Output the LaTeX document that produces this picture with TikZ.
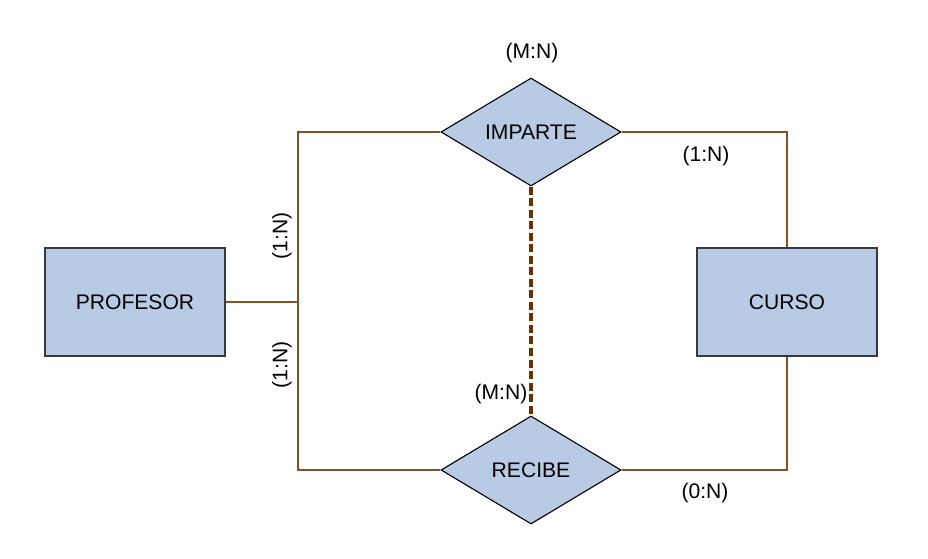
\documentclass[tikz,border=0pt]{standalone}
\usepackage{fontspec}
\setmainfont{Liberation Sans}
\usetikzlibrary{shapes.geometric}
\definecolor{entfill}{HTML}{B9CBE4}
\definecolor{entline}{HTML}{36393D}
\definecolor{relline}{HTML}{7F5327}
\definecolor{dashline}{HTML}{663300}
\tikzset{
	entidad/.style={draw=entline, fill=entfill, line width=0.8pt, minimum width=4.5cm, minimum height=2.7cm, inner sep=0pt, font=\fontsize{15}{18}\selectfont},
	relacion/.style={diamond, draw=black, fill=entfill, line width=0.8pt, aspect=1.667, minimum width=4.5cm, minimum height=2.7cm, inner sep=0pt, font=\fontsize{15}{18}\selectfont},
	enlace/.style={draw=relline, line width=0.8pt},
	discontinua/.style={draw=dashline, line width=2.4pt, dash pattern=on 5.7pt off 2.5pt},
	card/.style={font=\fontsize{15}{18}\selectfont, inner sep=0pt}
}
\begin{document}
\begin{tikzpicture}[x=0.025cm, y=-0.025cm]
		\useasboundingbox (0, 0) rectangle (928, 559);
		%%%%% ENTIDADES %%%%%
		\node[entidad] (prof) at (135, 302) {PROFESOR};
		\node[entidad] (curso) at (787, 302) {CURSO};
		
		%%%%% RELACIONES %%%%%
		\node[relacion] (imparte) at (531, 132) {IMPARTE};
		\node[relacion] (recibe) at (531, 470) {RECIBE};
		
		\coordinate (junta) at (298, 302);
		
		%%%%% LINEAS %%%%%
		\draw[enlace] (prof.east) -- (junta);
		\draw[enlace] (imparte.west) -| (junta) |- (recibe.west);
		\draw[enlace] (imparte.east) -| (curso.north);
		\draw[enlace] (recibe.east) -| (curso.south);
		\draw[discontinua] (imparte.south) -- (recibe.north);
		
		%%%%% CARDINALIDADES %%%%%
		\node[card] (cimp) at (532, 53) {(M:N)};
		\node[card] (cimpcur) at (706, 156) {(1:N)};
		\node[card, rotate=90] (cprofimp) at (282, 236) {(1:N)};
		\node[card, rotate=90] (cprofrec) at (282, 365) {(1:N)};
		\node[card] (crec) at (501, 394) {(M:N)};
		\node[card] (creccur) at (705, 493) {(0:N)};
	\end{tikzpicture}
\end{document}
